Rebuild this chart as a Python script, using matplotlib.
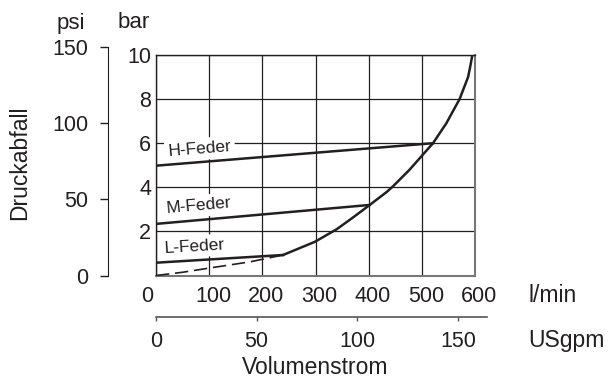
import matplotlib.pyplot as plt
import matplotlib.transforms as mtransforms
import numpy as np

plt.rcParams['font.family'] = ['Liberation Sans', 'DejaVu Sans']

ink = '#231f20'

# Volumenstrom in l/min, Druckabfall in bar
kurve_q = [239, 246, 277, 299, 340, 371, 402, 434, 446, 477, 499, 521, 546, 571, 587, 591, 595]
kurve_p = [0.93, 1.0, 1.31, 1.53, 2.1, 2.64, 3.2, 3.79, 4.05, 4.8, 5.4, 6.0, 6.9, 8.0, 9.0, 9.47, 10.0]

gestrichelt_q = [0, 51, 101, 177, 239]
gestrichelt_p = [0.0, 0.15, 0.34, 0.62, 0.93]

federn = ['H-Feder', 'M-Feder', 'L-Feder']
feder_q = [[0, 521], [0, 402], [0, 239]]
feder_p = [[4.98, 6.0], [2.34, 3.2], [0.58, 0.93]]
label_q = [23, 19, 15]
label_p = [5.62, 3.02, 1.24]

lmin_ticks = [0, 100, 200, 300, 400, 500, 600]
bar_ticks = [2, 4, 6, 8, 10]
psi_ticks = [0, 50, 100, 150]
gpm_ticks = [0, 50, 100, 150]

PSI_PER_BAR = 14.5038
LMIN_PER_GPM = 3.78541

W, H = 610, 380


def px(l, t, r, b):
    # Pixel-Rechteck -> Figurkoordinaten
    return [l / W, 1 - b / H, (r - l) / W, (b - t) / H]


fig = plt.figure(figsize=(6.1, 3.8), dpi=100)

# === Hauptdiagramm ===
ax = fig.add_axes(px(156, 55, 475, 275.5))
ax.set_xlim(0, 600)
ax.set_ylim(0, 10)
ax.set_xticks(lmin_ticks)
ax.set_yticks(bar_ticks)
ax.grid(True, color=ink, lw=0.9)
ax.set_axisbelow(True)
ax.tick_params(length=0, labelsize=15.5, labelcolor=ink)
ax.tick_params(axis='x', pad=7.5)
ax.tick_params(axis='y', pad=3.5)
for s in ['left', 'top']:
    ax.spines[s].set_color(ink)
    ax.spines[s].set_linewidth(1.0)
for s in ['bottom', 'right']:
    ax.spines[s].set_color('#777777')
    ax.spines[s].set_linewidth(1.5)

# Beschriftungen der l/min-Achse leicht versetzt wie im Original
for i, lab in enumerate(ax.get_xticklabels()):
    dx = -9 if i == 0 else 4
    lab.set_transform(lab.get_transform() +
                      mtransforms.ScaledTranslation(dx / 100, 0, fig.dpi_scale_trans))

ax.plot(kurve_q, kurve_p, color=ink, lw=1.8, zorder=3, solid_joinstyle='round')
ax.plot(gestrichelt_q, gestrichelt_p, color=ink, lw=1.2, ls=(0, (8, 3.5)), zorder=3)

for name, fq, fp, lq, lp in zip(federn, feder_q, feder_p, label_q, label_p):
    ax.plot(fq, fp, color=ink, lw=1.8, zorder=3)
    winkel = np.degrees(np.arctan2(fp[1] - fp[0], fq[1] - fq[0]))
    ax.text(lq, lp, name, fontsize=12.5, color=ink, ha='left', va='center',
            rotation=winkel, rotation_mode='anchor', transform_rotates_text=True,
            bbox=dict(facecolor='white', edgecolor='none', pad=2.5), zorder=2.5)

# === psi-Achse ===
pos = ax.get_position()
ax_psi = fig.add_axes([108 / W, pos.y0, 0.001, pos.height * (150 / PSI_PER_BAR) / 10])
ax_psi.set_ylim(0, 150)
ax_psi.set_yticks(psi_ticks)
ax_psi.set_xticks([])
ax_psi.patch.set_visible(False)
for s in ['right', 'top', 'bottom']:
    ax_psi.spines[s].set_visible(False)
ax_psi.spines['left'].set_color(ink)
ax_psi.tick_params(axis='y', length=5.8, width=1, color=ink, pad=8.5,
                   labelsize=15.5, labelcolor=ink)

# === USgpm-Achse ===
ax_gpm = fig.add_axes(px(156, 316, 487, 317))
ax_gpm.set_xlim(0, 600 / LMIN_PER_GPM * (487 - 156) / (475 - 156))
ax_gpm.set_xticks(gpm_ticks)
ax_gpm.set_yticks([])
ax_gpm.patch.set_visible(False)
for s in ['left', 'right', 'top']:
    ax_gpm.spines[s].set_visible(False)
ax_gpm.spines['bottom'].set_color('#555555')
ax_gpm.spines['bottom'].set_linewidth(1.2)
ax_gpm.tick_params(axis='x', length=3, width=1, color='#555555', pad=7,
                   labelsize=15.5, labelcolor=ink)

# === Beschriftungen ===
fig.text(71 / W, 1 - 23 / H, 'psi', ha='center', va='center', fontsize=16, color=ink)
fig.text(134 / W, 1 - 23 / H, 'bar', ha='center', va='center', fontsize=16, color=ink)
fig.text(528 / W, 1 - 295 / H, 'l/min', ha='left', va='center', fontsize=16.5, color=ink)
fig.text(528 / W, 1 - 340 / H, 'USgpm', ha='left', va='center', fontsize=16.5, color=ink)
fig.text(315 / W, 1 - 368 / H, 'Volumenstrom', ha='center', va='center', fontsize=16.5, color=ink)
fig.text(20 / W, 1 - 163 / H, 'Druckabfall', ha='center', va='center', rotation=90,
         fontsize=16.5, color=ink)

plt.savefig('out.png', dpi=100)
plt.close()
